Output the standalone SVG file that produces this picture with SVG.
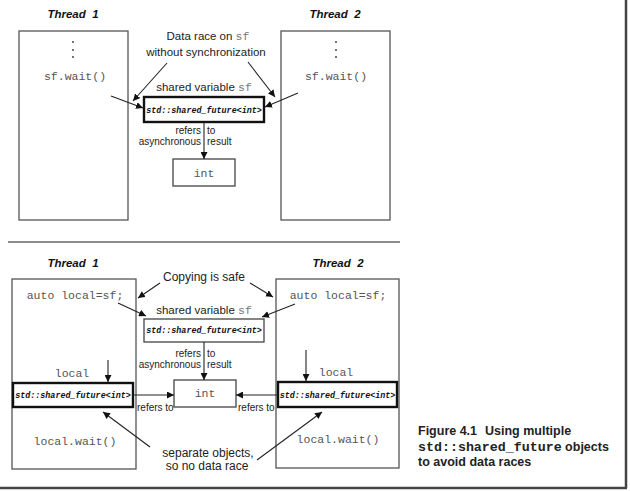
<svg xmlns="http://www.w3.org/2000/svg" width="630" height="491" viewBox="0 0 630 491">
<defs>
<marker id="ah" viewBox="0 0 10 10" refX="10" refY="5" markerWidth="7" markerHeight="7" markerUnits="userSpaceOnUse" orient="auto">
<path d="M0,0 L10,5 L0,10 z" fill="#111"/>
</marker>
<style>
.thr{fill:#fff;stroke:#555;stroke-width:1.3}
.thick{fill:#fff;stroke:#111;stroke-width:2.4}
.thin{fill:#fff;stroke:#444;stroke-width:1.3}
.ttl{font-family:"Liberation Sans",Arial,sans-serif;font-weight:bold;font-style:italic;font-size:11.5px;fill:#111;text-anchor:middle;white-space:pre}
.code{font-family:"Liberation Mono","Courier New",monospace;font-size:11.5px;fill:#555;text-anchor:middle}
.sfm{font-family:"Liberation Mono","Courier New",monospace;fill:#777}
.lbl{font-family:"Liberation Sans",Arial,sans-serif;font-size:11.5px;fill:#222;text-anchor:middle}
.sm{font-family:"Liberation Sans",Arial,sans-serif;font-size:10px;fill:#222}
.sfu{font-family:"Liberation Mono","Courier New",monospace;font-weight:bold;font-style:italic;font-size:8.4px;fill:#111;text-anchor:middle}
.cap{font-family:"Liberation Sans",Arial,sans-serif;font-weight:bold;font-size:12.5px;fill:#222}
.capm{font-family:"Liberation Mono","Courier New",monospace;font-weight:bold;font-size:13.3px}
.ln{stroke:#222;stroke-width:1.1;fill:none;marker-end:url(#ah)}
</style>
</defs>
<rect width="630" height="491" fill="#fff"/>
<!-- frame -->
<line x1="626" y1="0" x2="626" y2="488" stroke="#444" stroke-width="2.5"/>
<line x1="0" y1="488" x2="627" y2="488" stroke="#444" stroke-width="2.5"/>
<line x1="8" y1="242" x2="400" y2="242" stroke="#666" stroke-width="1.5"/>

<!-- ===== Top ===== -->
<g id="top-thread1">
<text class="ttl" x="73" y="18" xml:space="preserve">Thread  1</text>
<rect class="thr" x="19" y="31" width="109" height="189"/>
<circle cx="73" cy="42" r="0.9" fill="#333"/><circle cx="73" cy="50" r="0.9" fill="#333"/><circle cx="73" cy="57" r="0.9" fill="#333"/>
<text class="code" x="75" y="80">sf.wait()</text>
</g>
<g id="top-thread2">
<text class="ttl" x="335" y="18" xml:space="preserve">Thread  2</text>
<rect class="thr" x="281" y="31" width="109" height="189"/>
<circle cx="336" cy="42" r="0.9" fill="#333"/><circle cx="336" cy="50" r="0.9" fill="#333"/><circle cx="336" cy="57" r="0.9" fill="#333"/>
<text class="code" x="336" y="80">sf.wait()</text>
</g>
<g id="top-race-label">
<text class="lbl" x="208" y="40">Data race on <tspan class="sfm">sf</tspan></text>
<text class="lbl" x="206" y="56">without synchronization</text>
</g>
<g id="top-shared">
<text class="lbl" x="204" y="91">shared variable <tspan class="sfm">sf</tspan></text>
<rect class="thick" x="144" y="97" width="120" height="25"/>
<text class="sfu" x="204" y="112.5">std::shared_future&lt;int&gt;</text>
</g>
<g id="top-int">
<rect class="thin" x="173" y="159" width="62" height="27"/>
<text class="code" x="204" y="177">int</text>
</g>
<g id="top-refers-label">
<text class="sm" x="201" y="134" text-anchor="end">refers</text>
<text class="sm" x="207" y="134">to</text>
<text class="sm" x="201" y="145" text-anchor="end">asynchronous</text>
<text class="sm" x="207" y="145">result</text>
</g>

<!-- ===== Bottom ===== -->
<g id="bot-thread1">
<text class="ttl" x="73" y="267" xml:space="preserve">Thread  1</text>
<rect class="thr" x="12" y="279" width="124" height="190"/>
<text class="code" x="75" y="299">auto local=sf;</text>
<text class="code" x="72" y="377">local</text>
<text class="code" x="75" y="445">local.wait()</text>
<rect class="thick" x="13" y="383" width="120" height="24"/>
<text class="sfu" x="73" y="398">std::shared_future&lt;int&gt;</text>
</g>
<g id="bot-thread2">
<text class="ttl" x="338" y="267" xml:space="preserve">Thread  2</text>
<rect class="thr" x="276" y="279" width="123" height="189"/>
<text class="code" x="338" y="299">auto local=sf;</text>
<text class="code" x="336" y="376">local</text>
<text class="code" x="338" y="443">local.wait()</text>
<rect class="thick" x="278" y="382" width="119" height="25"/>
<text class="sfu" x="337.5" y="397.5">std::shared_future&lt;int&gt;</text>
</g>
<g id="bot-copy-label">
<text class="lbl" x="204" y="281" style="font-size:12px">Copying is safe</text>
</g>
<g id="bot-shared">
<text class="lbl" x="204" y="314">shared variable <tspan class="sfm">sf</tspan></text>
<rect class="thin" x="144" y="319" width="120" height="23"/>
<text class="sfu" x="204" y="333">std::shared_future&lt;int&gt;</text>
</g>
<g id="bot-int">
<rect class="thin" x="174" y="380" width="62" height="27"/>
<text class="code" x="205" y="397">int</text>
</g>
<g id="bot-labels">
<text class="sm" x="201" y="357" text-anchor="end">refers</text>
<text class="sm" x="207" y="357">to</text>
<text class="sm" x="201" y="368" text-anchor="end">asynchronous</text>
<text class="sm" x="207" y="368">result</text>
<text class="sm" x="137" y="411">refers to</text>
<text class="sm" x="238" y="411">refers to</text>
<text class="lbl" x="208" y="457" style="font-size:12px">separate objects,</text>
<text class="lbl" x="207" y="470" style="font-size:12px">so no data race</text>
</g>

<!-- caption -->
<g id="caption">
<text class="cap" x="418" y="435">Figure 4.1</text>
<text class="cap" x="485" y="435">Using multiple</text>
<text class="cap" x="418" y="451"><tspan class="capm">std::shared_future</tspan> objects</text>
<text class="cap" x="418" y="466">to avoid data races</text>
</g>

<!-- connectors -->
<g id="connectors">
<line class="ln" x1="167" y1="63" x2="133" y2="101"/>
<line class="ln" x1="248" y1="62" x2="275" y2="97"/>
<line class="ln" x1="111" y1="96" x2="143" y2="108"/>
<line class="ln" x1="298" y1="93" x2="265" y2="107"/>
<line class="ln" x1="204" y1="122" x2="204" y2="159"/>

<line class="ln" x1="160" y1="283" x2="138" y2="298"/>
<line class="ln" x1="250" y1="283" x2="273" y2="297"/>
<line class="ln" x1="118" y1="303" x2="146" y2="316"/>
<line class="ln" x1="295" y1="304" x2="262" y2="317"/>
<line class="ln" x1="204" y1="342" x2="204" y2="380"/>
<line class="ln" x1="108" y1="360" x2="108" y2="382"/>
<line class="ln" x1="306" y1="350" x2="306" y2="381"/>
<line class="ln" x1="133" y1="395" x2="174" y2="395"/>
<line class="ln" x1="278" y1="395" x2="236" y2="395"/>
<line class="ln" x1="150" y1="447" x2="103" y2="412"/>
<line class="ln" x1="257" y1="460" x2="322" y2="412"/>
</g>
</svg>
